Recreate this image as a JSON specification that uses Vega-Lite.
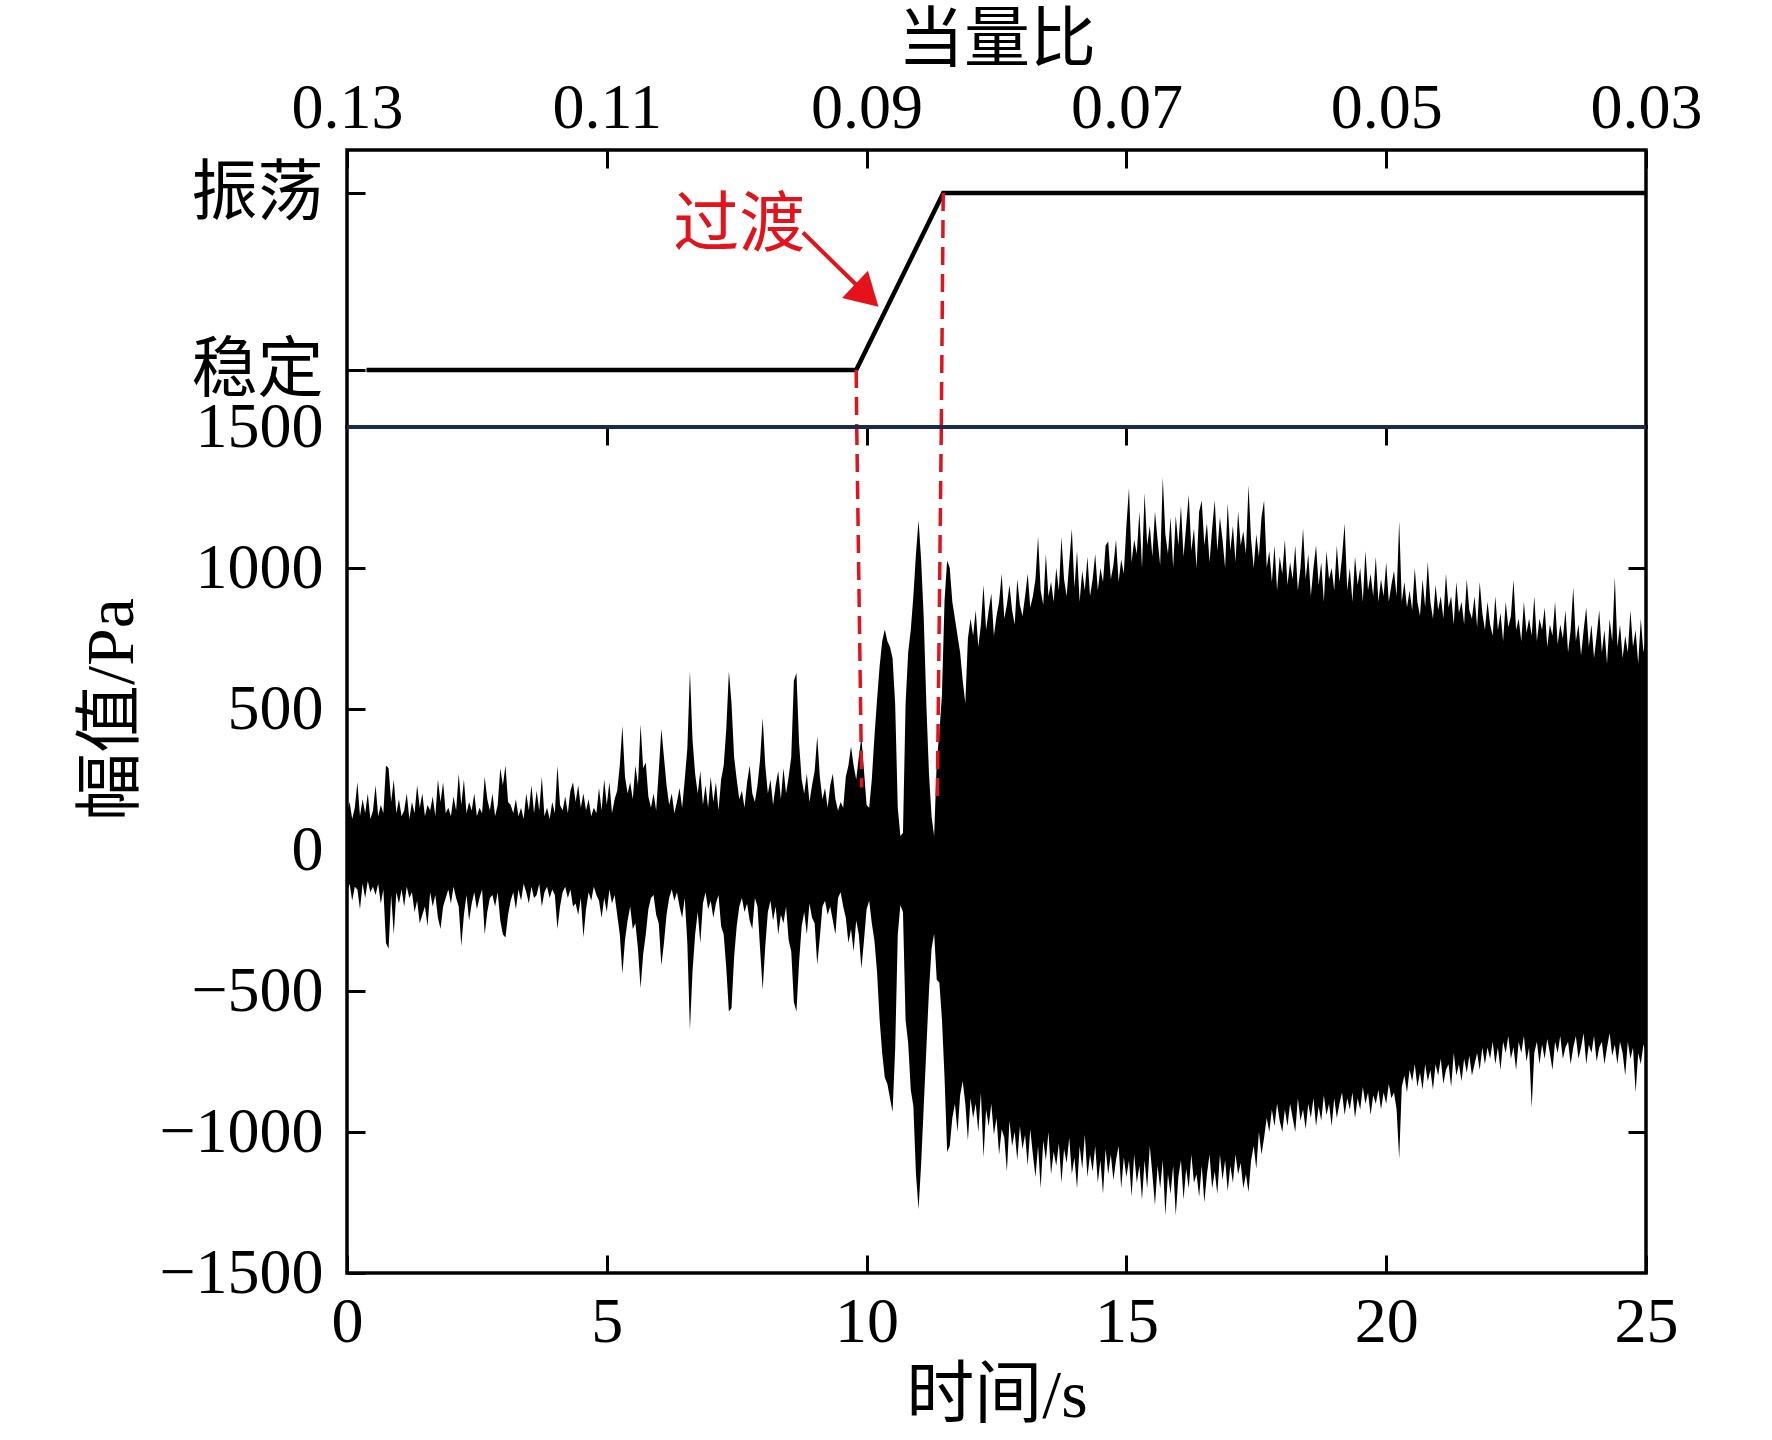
{
  "$schema": "https://vega.github.io/schema/vega-lite/v6.json",
  "background": "white",
  "padding": {"left": 76, "top": 5, "right": 20, "bottom": 10},
  "spacing": 0,
  "bounds": "flush",
  "config": {
    "view": {"stroke": "black", "strokeWidth": 3.5},
    "axis": {
      "domain": false, "grid": false,
      "tickColor": "black", "tickWidth": 3, "tickSize": -18,
      "labelFont": "Liberation Serif", "labelFontSize": 64, "labelColor": "black",
      "labelFlush": false, "labelOverlap": false,
      "titleFont": "Liberation Serif, Noto Sans CJK SC", "titleFontSize": 68,
      "titleFontWeight": "normal", "titleColor": "black"
    }
  },
  "vconcat": [
    {
      "width": 1299,
      "height": 277,
      "resolve": {"axis": {"x": "independent", "y": "independent"}},
      "layer": [
        {
          "data": {"values": [
            {"ratio": 0.1285, "state": 0},
            {"ratio": 0.0908, "state": 0},
            {"ratio": 0.0841, "state": 1},
            {"ratio": 0.03, "state": 1}
          ]},
          "mark": {"type": "line", "color": "black", "strokeWidth": 4.5},
          "encoding": {
            "x": {"field": "ratio", "type": "quantitative",
                  "scale": {"domain": [0.03, 0.13], "reverse": true, "nice": false, "zero": false},
                  "axis": {"orient": "top", "title": "当量比", "values": [0.13, 0.11, 0.09, 0.07, 0.05, 0.03],
                           "format": ".2f", "labelPadding": 28, "titleFont": "Noto Sans CJK SC", "titleFontSize": 66,
                           "titleY": -110, "titleBaseline": "middle"}},
            "y": {"field": "state", "type": "quantitative",
                  "scale": {"domain": [-0.322, 1.2435], "nice": false, "zero": false},
                  "axis": {"orient": "left", "title": null, "values": [0, 1],
                           "labelExpr": "datum.value == 1 ? '振荡' : '稳定'",
                           "labelFont": "Noto Sans CJK SC", "labelFontSize": 66, "labelPadding": 42}}
          }
        },
        {
          "data": {"values": [
            {"r1": 0.0908, "s1": 0, "r2": 0.09076, "s2": -0.322},
            {"r1": 0.0841, "s1": 1, "r2": 0.08425, "s2": -0.322}
          ]},
          "mark": {"type": "rule", "color": "#e3121b", "strokeWidth": 3.5, "strokeDash": [18, 9]},
          "encoding": {
            "x": {"field": "r1", "type": "quantitative", "axis": null},
            "x2": {"field": "r2"},
            "y": {"field": "s1", "type": "quantitative", "axis": null},
            "y2": {"field": "s2"}
          }
        },
        {
          "data": {"values": [{"r1": 0.0949, "s1": 0.777, "r2": 0.09066, "s2": 0.472}]},
          "mark": {"type": "rule", "color": "#e3121b", "strokeWidth": 4},
          "encoding": {
            "x": {"field": "r1", "type": "quantitative", "axis": null},
            "x2": {"field": "r2"},
            "y": {"field": "s1", "type": "quantitative", "axis": null},
            "y2": {"field": "s2"}
          }
        },
        {
          "data": {"values": [{"ratio": 0.08999, "state": 0.421}]},
          "mark": {"type": "point", "shape": "triangle-right", "angle": 43.6, "filled": true,
                   "color": "#e3121b", "opacity": 1, "size": 1400},
          "encoding": {
            "x": {"field": "ratio", "type": "quantitative", "axis": null},
            "y": {"field": "state", "type": "quantitative", "axis": null}
          }
        },
        {
          "data": {"values": [{"ratio": 0.0998, "state": 0.816, "label": "过渡"}]},
          "mark": {"type": "text", "color": "#e3121b", "font": "Noto Sans CJK SC", "fontSize": 66,
                   "align": "center", "baseline": "middle"},
          "encoding": {
            "x": {"field": "ratio", "type": "quantitative", "axis": null},
            "y": {"field": "state", "type": "quantitative", "axis": null},
            "text": {"field": "label"}
          }
        }
      ]
    },
    {
      "width": 1299,
      "height": 846,
      "resolve": {"axis": {"x": "independent", "y": "independent"}},
      "layer": [
        {
          "data": {"values": [
{"t":0.00,"hi":130,"lo":-150},{"t":0.05,"hi":170,"lo":-120},{"t":0.10,"hi":110,"lo":-180},{"t":0.15,"hi":150,"lo":-130},
{"t":0.20,"hi":240,"lo":-140},{"t":0.25,"hi":120,"lo":-210},{"t":0.30,"hi":180,"lo":-120},{"t":0.35,"hi":130,"lo":-170},
{"t":0.40,"hi":200,"lo":-110},{"t":0.45,"hi":110,"lo":-150},{"t":0.50,"hi":140,"lo":-130},{"t":0.55,"hi":230,"lo":-160},
{"t":0.60,"hi":120,"lo":-120},{"t":0.65,"hi":160,"lo":-190},{"t":0.70,"hi":130,"lo":-140},{"t":0.75,"hi":300,"lo":-330},
{"t":0.80,"hi":290,"lo":-350},{"t":0.85,"hi":170,"lo":-160},{"t":0.90,"hi":250,"lo":-300},{"t":0.95,"hi":130,"lo":-150},
{"t":1.00,"hi":180,"lo":-190},{"t":1.05,"hi":120,"lo":-140},{"t":1.10,"hi":140,"lo":-200},{"t":1.15,"hi":200,"lo":-130},
{"t":1.20,"hi":110,"lo":-170},{"t":1.25,"hi":170,"lo":-150},{"t":1.30,"hi":130,"lo":-220},{"t":1.35,"hi":230,"lo":-180},
{"t":1.40,"hi":150,"lo":-260},{"t":1.45,"hi":200,"lo":-230},{"t":1.50,"hi":120,"lo":-200},{"t":1.55,"hi":160,"lo":-270},
{"t":1.60,"hi":140,"lo":-150},{"t":1.65,"hi":190,"lo":-200},{"t":1.70,"hi":120,"lo":-160},{"t":1.75,"hi":250,"lo":-240},
{"t":1.80,"hi":170,"lo":-280},{"t":1.85,"hi":240,"lo":-200},{"t":1.90,"hi":130,"lo":-170},{"t":1.95,"hi":150,"lo":-140},
{"t":2.00,"hi":120,"lo":-190},{"t":2.05,"hi":190,"lo":-130},{"t":2.10,"hi":140,"lo":-170},{"t":2.15,"hi":270,"lo":-200},
{"t":2.20,"hi":160,"lo":-340},{"t":2.25,"hi":250,"lo":-230},{"t":2.30,"hi":130,"lo":-160},{"t":2.35,"hi":170,"lo":-250},
{"t":2.40,"hi":140,"lo":-190},{"t":2.45,"hi":200,"lo":-150},{"t":2.50,"hi":120,"lo":-210},{"t":2.55,"hi":150,"lo":-170},
{"t":2.60,"hi":130,"lo":-140},{"t":2.65,"hi":260,"lo":-300},{"t":2.70,"hi":180,"lo":-220},{"t":2.75,"hi":140,"lo":-170},
{"t":2.80,"hi":200,"lo":-160},{"t":2.85,"hi":120,"lo":-200},{"t":2.90,"hi":160,"lo":-150},{"t":2.95,"hi":290,"lo":-250},
{"t":3.00,"hi":230,"lo":-300},{"t":3.05,"hi":300,"lo":-310},{"t":3.10,"hi":170,"lo":-230},{"t":3.15,"hi":160,"lo":-180},
{"t":3.20,"hi":130,"lo":-150},{"t":3.25,"hi":180,"lo":-210},{"t":3.30,"hi":120,"lo":-140},{"t":3.35,"hi":150,"lo":-180},
{"t":3.40,"hi":110,"lo":-120},{"t":3.45,"hi":200,"lo":-150},{"t":3.50,"hi":140,"lo":-190},{"t":3.55,"hi":230,"lo":-130},
{"t":3.60,"hi":130,"lo":-170},{"t":3.65,"hi":210,"lo":-160},{"t":3.70,"hi":140,"lo":-120},{"t":3.75,"hi":260,"lo":-200},
{"t":3.80,"hi":120,"lo":-150},{"t":3.85,"hi":150,"lo":-130},{"t":3.90,"hi":110,"lo":-170},{"t":3.95,"hi":170,"lo":-140},
{"t":4.00,"hi":130,"lo":-160},{"t":4.05,"hi":300,"lo":-280},{"t":4.10,"hi":160,"lo":-200},{"t":4.15,"hi":140,"lo":-150},
{"t":4.20,"hi":190,"lo":-130},{"t":4.25,"hi":130,"lo":-170},{"t":4.30,"hi":210,"lo":-140},{"t":4.35,"hi":240,"lo":-200},
{"t":4.40,"hi":170,"lo":-190},{"t":4.45,"hi":230,"lo":-230},{"t":4.50,"hi":150,"lo":-170},{"t":4.55,"hi":200,"lo":-310},
{"t":4.60,"hi":140,"lo":-210},{"t":4.65,"hi":180,"lo":-150},{"t":4.70,"hi":120,"lo":-180},{"t":4.75,"hi":150,"lo":-130},
{"t":4.80,"hi":130,"lo":-160},{"t":4.85,"hi":220,"lo":-180},{"t":4.90,"hi":140,"lo":-240},{"t":4.95,"hi":250,"lo":-170},
{"t":5.00,"hi":160,"lo":-220},{"t":5.05,"hi":240,"lo":-140},{"t":5.10,"hi":130,"lo":-190},{"t":5.15,"hi":180,"lo":-160},
{"t":5.20,"hi":210,"lo":-230},{"t":5.25,"hi":300,"lo":-300},{"t":5.30,"hi":440,"lo":-440},{"t":5.35,"hi":260,"lo":-320},
{"t":5.40,"hi":200,"lo":-250},{"t":5.45,"hi":240,"lo":-200},{"t":5.50,"hi":180,"lo":-280},{"t":5.55,"hi":300,"lo":-260},
{"t":5.60,"hi":230,"lo":-350},{"t":5.65,"hi":445,"lo":-490},{"t":5.70,"hi":290,"lo":-370},{"t":5.75,"hi":310,"lo":-300},
{"t":5.80,"hi":190,"lo":-210},{"t":5.85,"hi":150,"lo":-170},{"t":5.90,"hi":200,"lo":-160},{"t":5.95,"hi":140,"lo":-230},
{"t":6.00,"hi":280,"lo":-260},{"t":6.05,"hi":430,"lo":-410},{"t":6.10,"hi":330,"lo":-330},{"t":6.15,"hi":230,"lo":-230},
{"t":6.20,"hi":160,"lo":-170},{"t":6.25,"hi":200,"lo":-140},{"t":6.30,"hi":130,"lo":-180},{"t":6.35,"hi":170,"lo":-150},
{"t":6.40,"hi":220,"lo":-200},{"t":6.45,"hi":150,"lo":-240},{"t":6.50,"hi":250,"lo":-170},{"t":6.55,"hi":360,"lo":-330},
{"t":6.60,"hi":634,"lo":-638},{"t":6.65,"hi":390,"lo":-430},{"t":6.70,"hi":270,"lo":-300},{"t":6.75,"hi":200,"lo":-220},
{"t":6.80,"hi":280,"lo":-330},{"t":6.85,"hi":160,"lo":-190},{"t":6.90,"hi":230,"lo":-150},{"t":6.95,"hi":150,"lo":-210},
{"t":7.00,"hi":260,"lo":-180},{"t":7.05,"hi":170,"lo":-240},{"t":7.10,"hi":240,"lo":-190},{"t":7.15,"hi":140,"lo":-160},
{"t":7.20,"hi":250,"lo":-270},{"t":7.25,"hi":300,"lo":-300},{"t":7.30,"hi":430,"lo":-420},{"t":7.35,"hi":634,"lo":-573},
{"t":7.40,"hi":520,"lo":-560},{"t":7.45,"hi":330,"lo":-380},{"t":7.50,"hi":250,"lo":-270},{"t":7.55,"hi":180,"lo":-200},
{"t":7.60,"hi":210,"lo":-170},{"t":7.65,"hi":150,"lo":-220},{"t":7.70,"hi":240,"lo":-190},{"t":7.75,"hi":300,"lo":-250},
{"t":7.80,"hi":200,"lo":-280},{"t":7.85,"hi":170,"lo":-170},{"t":7.90,"hi":230,"lo":-200},{"t":7.95,"hi":320,"lo":-350},
{"t":8.00,"hi":468,"lo":-496},{"t":8.05,"hi":300,"lo":-340},{"t":8.10,"hi":200,"lo":-220},{"t":8.15,"hi":250,"lo":-180},
{"t":8.20,"hi":160,"lo":-250},{"t":8.25,"hi":230,"lo":-200},{"t":8.30,"hi":280,"lo":-300},{"t":8.35,"hi":180,"lo":-230},
{"t":8.40,"hi":290,"lo":-260},{"t":8.45,"hi":200,"lo":-200},{"t":8.50,"hi":260,"lo":-320},{"t":8.55,"hi":330,"lo":-360},
{"t":8.60,"hi":600,"lo":-540},{"t":8.65,"hi":628,"lo":-573},{"t":8.70,"hi":380,"lo":-400},{"t":8.75,"hi":250,"lo":-270},
{"t":8.80,"hi":200,"lo":-220},{"t":8.85,"hi":270,"lo":-300},{"t":8.90,"hi":170,"lo":-190},{"t":8.95,"hi":230,"lo":-240},
{"t":9.00,"hi":280,"lo":-260},{"t":9.05,"hi":403,"lo":-407},{"t":9.10,"hi":260,"lo":-310},{"t":9.15,"hi":180,"lo":-200},
{"t":9.20,"hi":220,"lo":-180},{"t":9.25,"hi":150,"lo":-230},{"t":9.30,"hi":230,"lo":-200},{"t":9.35,"hi":270,"lo":-250},
{"t":9.40,"hi":180,"lo":-300},{"t":9.45,"hi":140,"lo":-170},{"t":9.50,"hi":170,"lo":-150},{"t":9.55,"hi":150,"lo":-200},
{"t":9.60,"hi":260,"lo":-240},{"t":9.65,"hi":300,"lo":-330},{"t":9.70,"hi":367,"lo":-280},{"t":9.75,"hi":300,"lo":-360},
{"t":9.80,"hi":250,"lo":-250},{"t":9.85,"hi":330,"lo":-300},{"t":9.90,"hi":400,"lo":-420},{"t":9.95,"hi":280,"lo":-320},
{"t":10.00,"hi":160,"lo":-210},{"t":10.05,"hi":150,"lo":-180},{"t":10.10,"hi":250,"lo":-260},{"t":10.15,"hi":400,"lo":-320},
{"t":10.20,"hi":530,"lo":-430},{"t":10.25,"hi":650,"lo":-600},{"t":10.30,"hi":740,"lo":-720},{"t":10.35,"hi":782,"lo":-807},
{"t":10.40,"hi":740,"lo":-830},{"t":10.45,"hi":721,"lo":-880},{"t":10.50,"hi":680,"lo":-929},{"t":10.55,"hi":517,"lo":-705},
{"t":10.60,"hi":150,"lo":-300},{"t":10.65,"hi":50,"lo":-196},{"t":10.70,"hi":60,"lo":-220},{"t":10.75,"hi":517,"lo":-603},
{"t":10.80,"hi":700,"lo":-684},{"t":10.85,"hi":780,"lo":-850},{"t":10.90,"hi":900,"lo":-909},{"t":10.95,"hi":1050,"lo":-1150},
{"t":11.00,"hi":1169,"lo":-1275},{"t":11.05,"hi":1027,"lo":-1112},{"t":11.10,"hi":823,"lo":-909},{"t":11.15,"hi":517,"lo":-705},
{"t":11.20,"hi":273,"lo":-501},{"t":11.25,"hi":120,"lo":-350},{"t":11.30,"hi":50,"lo":-297},{"t":11.35,"hi":313,"lo":-460},
{"t":11.40,"hi":415,"lo":-470},{"t":11.45,"hi":550,"lo":-600},{"t":11.50,"hi":884,"lo":-807},{"t":11.55,"hi":1027,"lo":-1071},
{"t":11.60,"hi":1000,"lo":-1050},{"t":11.65,"hi":880,"lo":-950},{"t":11.70,"hi":820,"lo":-900},{"t":11.75,"hi":760,"lo":-1000},
{"t":11.80,"hi":700,"lo":-870},{"t":11.85,"hi":600,"lo":-820},{"t":11.90,"hi":520,"lo":-900},{"t":11.95,"hi":750,"lo":-1030},
{"t":12.00,"hi":820,"lo":-880},{"t":12.05,"hi":760,"lo":-950},{"t":12.10,"hi":850,"lo":-900},{"t":12.15,"hi":720,"lo":-1000},
{"t":12.20,"hi":800,"lo":-860},{"t":12.25,"hi":940,"lo":-1090},{"t":12.30,"hi":780,"lo":-920},{"t":12.35,"hi":850,"lo":-980},
{"t":12.40,"hi":910,"lo":-900},{"t":12.45,"hi":760,"lo":-1010},{"t":12.50,"hi":830,"lo":-950},{"t":12.55,"hi":880,"lo":-1080},
{"t":12.60,"hi":980,"lo":-990},{"t":12.65,"hi":820,"lo":-1020},{"t":12.70,"hi":870,"lo":-1140},{"t":12.75,"hi":940,"lo":-960},
{"t":12.80,"hi":850,"lo":-1050},{"t":12.85,"hi":800,"lo":-1000},{"t":12.90,"hi":960,"lo":-1100},{"t":12.95,"hi":870,"lo":-980},
{"t":13.00,"hi":830,"lo":-1060},{"t":13.05,"hi":900,"lo":-1010},{"t":13.10,"hi":980,"lo":-1120},{"t":13.15,"hi":860,"lo":-990},
{"t":13.20,"hi":900,"lo":-1080},{"t":13.25,"hi":960,"lo":-1160},{"t":13.30,"hi":1112,"lo":-1050},{"t":13.35,"hi":920,"lo":-1200},
{"t":13.40,"hi":870,"lo":-1030},{"t":13.45,"hi":1050,"lo":-1100},{"t":13.50,"hi":900,"lo":-1000},{"t":13.55,"hi":950,"lo":-1150},
{"t":13.60,"hi":880,"lo":-1070},{"t":13.65,"hi":1000,"lo":-1120},{"t":13.70,"hi":920,"lo":-1040},{"t":13.75,"hi":1110,"lo":-1180},
{"t":13.80,"hi":960,"lo":-1060},{"t":13.85,"hi":900,"lo":-1110},{"t":13.90,"hi":1020,"lo":-1020},{"t":13.95,"hi":1139,"lo":-1150},
{"t":14.00,"hi":930,"lo":-1090},{"t":14.05,"hi":1060,"lo":-1200},{"t":14.10,"hi":880,"lo":-1050},{"t":14.15,"hi":990,"lo":-1130},
{"t":14.20,"hi":920,"lo":-1010},{"t":14.25,"hi":1040,"lo":-1160},{"t":14.30,"hi":900,"lo":-1080},{"t":14.35,"hi":960,"lo":-1140},
{"t":14.40,"hi":1050,"lo":-1050},{"t":14.45,"hi":920,"lo":-1180},{"t":14.50,"hi":1000,"lo":-1100},{"t":14.55,"hi":950,"lo":-1220},
{"t":14.60,"hi":1080,"lo":-1060},{"t":14.65,"hi":1094,"lo":-1150},{"t":14.70,"hi":960,"lo":-1080},{"t":14.75,"hi":1010,"lo":-1170},
{"t":14.80,"hi":1100,"lo":-1100},{"t":14.85,"hi":950,"lo":-1050},{"t":14.90,"hi":1030,"lo":-1200},{"t":14.95,"hi":980,"lo":-1090},
{"t":15.00,"hi":1150,"lo":-1160},{"t":15.05,"hi":1284,"lo":-1100},{"t":15.10,"hi":1020,"lo":-1230},{"t":15.15,"hi":1100,"lo":-1080},
{"t":15.20,"hi":1050,"lo":-1180},{"t":15.25,"hi":1200,"lo":-1120},{"t":15.30,"hi":1000,"lo":-1240},{"t":15.35,"hi":1266,"lo":-1100},
{"t":15.40,"hi":1080,"lo":-1200},{"t":15.45,"hi":1150,"lo":-1050},{"t":15.50,"hi":1040,"lo":-1150},{"t":15.55,"hi":1200,"lo":-1260},
{"t":15.60,"hi":1100,"lo":-1120},{"t":15.65,"hi":1010,"lo":-1200},{"t":15.70,"hi":1321,"lo":-1100},{"t":15.75,"hi":1120,"lo":-1296},
{"t":15.80,"hi":1050,"lo":-1150},{"t":15.85,"hi":1180,"lo":-1220},{"t":15.90,"hi":1000,"lo":-1120},{"t":15.95,"hi":1185,"lo":-1296},
{"t":16.00,"hi":1080,"lo":-1160},{"t":16.05,"hi":1220,"lo":-1100},{"t":16.10,"hi":1040,"lo":-1240},{"t":16.15,"hi":1150,"lo":-1130},
{"t":16.20,"hi":1260,"lo":-1200},{"t":16.25,"hi":1060,"lo":-1080},{"t":16.30,"hi":1140,"lo":-1180},{"t":16.35,"hi":1000,"lo":-1150},
{"t":16.40,"hi":1200,"lo":-1230},{"t":16.45,"hi":1239,"lo":-1120},{"t":16.50,"hi":1080,"lo":-1250},{"t":16.55,"hi":1160,"lo":-1150},
{"t":16.60,"hi":1020,"lo":-1080},{"t":16.65,"hi":1140,"lo":-1200},{"t":16.70,"hi":1240,"lo":-1140},{"t":16.75,"hi":1060,"lo":-1220},
{"t":16.80,"hi":1180,"lo":-1080},{"t":16.85,"hi":1100,"lo":-1170},{"t":16.90,"hi":1000,"lo":-1100},{"t":16.95,"hi":1230,"lo":-1210},
{"t":17.00,"hi":1060,"lo":-1120},{"t":17.05,"hi":1150,"lo":-1180},{"t":17.10,"hi":1020,"lo":-1080},{"t":17.15,"hi":1200,"lo":-1150},
{"t":17.20,"hi":1080,"lo":-1110},{"t":17.25,"hi":1130,"lo":-1200},{"t":17.30,"hi":1050,"lo":-1150},{"t":17.35,"hi":1293,"lo":-1214},
{"t":17.40,"hi":1100,"lo":-1100},{"t":17.45,"hi":1000,"lo":-1050},{"t":17.50,"hi":1120,"lo":-1130},{"t":17.55,"hi":1040,"lo":-1000},
{"t":17.60,"hi":1180,"lo":-1080},{"t":17.65,"hi":1239,"lo":-1020},{"t":17.70,"hi":1000,"lo":-950},{"t":17.75,"hi":1060,"lo":-1000},
{"t":17.80,"hi":950,"lo":-920},{"t":17.85,"hi":1080,"lo":-980},{"t":17.90,"hi":920,"lo":-900},{"t":17.95,"hi":1040,"lo":-960},
{"t":18.00,"hi":980,"lo":-1000},{"t":18.05,"hi":1100,"lo":-920},{"t":18.10,"hi":940,"lo":-980},{"t":18.15,"hi":1020,"lo":-900},
{"t":18.20,"hi":960,"lo":-950},{"t":18.25,"hi":1080,"lo":-1000},{"t":18.30,"hi":920,"lo":-880},{"t":18.35,"hi":1000,"lo":-960},
{"t":18.40,"hi":1140,"lo":-920},{"t":18.45,"hi":960,"lo":-990},{"t":18.50,"hi":1050,"lo":-900},{"t":18.55,"hi":900,"lo":-950},
{"t":18.60,"hi":1000,"lo":-880},{"t":18.65,"hi":1080,"lo":-980},{"t":18.70,"hi":940,"lo":-910},{"t":18.75,"hi":1020,"lo":-960},
{"t":18.80,"hi":880,"lo":-870},{"t":18.85,"hi":1060,"lo":-940},{"t":18.90,"hi":960,"lo":-900},{"t":18.95,"hi":1000,"lo":-980},
{"t":19.00,"hi":920,"lo":-880},{"t":19.05,"hi":1080,"lo":-950},{"t":19.10,"hi":950,"lo":-900},{"t":19.15,"hi":1040,"lo":-860},
{"t":19.20,"hi":1158,"lo":-940},{"t":19.25,"hi":920,"lo":-880},{"t":19.30,"hi":1000,"lo":-920},{"t":19.35,"hi":880,"lo":-860},
{"t":19.40,"hi":1040,"lo":-950},{"t":19.45,"hi":940,"lo":-880},{"t":19.50,"hi":1000,"lo":-920},{"t":19.55,"hi":880,"lo":-840},
{"t":19.60,"hi":1060,"lo":-900},{"t":19.65,"hi":920,"lo":-860},{"t":19.70,"hi":980,"lo":-940},{"t":19.75,"hi":900,"lo":-870},
{"t":19.80,"hi":1040,"lo":-900},{"t":19.85,"hi":880,"lo":-850},{"t":19.90,"hi":960,"lo":-920},{"t":19.95,"hi":900,"lo":-860},
{"t":20.00,"hi":1020,"lo":-900},{"t":20.05,"hi":880,"lo":-830},{"t":20.10,"hi":940,"lo":-880},{"t":20.15,"hi":990,"lo":-860},
{"t":20.20,"hi":900,"lo":-920},{"t":20.25,"hi":1167,"lo":-1096},{"t":20.30,"hi":880,"lo":-840},{"t":20.35,"hi":950,"lo":-800},
{"t":20.40,"hi":860,"lo":-860},{"t":20.45,"hi":920,"lo":-780},{"t":20.50,"hi":850,"lo":-820},{"t":20.55,"hi":1000,"lo":-760},
{"t":20.60,"hi":880,"lo":-840},{"t":20.65,"hi":830,"lo":-790},{"t":20.70,"hi":960,"lo":-850},{"t":20.75,"hi":860,"lo":-760},
{"t":20.80,"hi":1022,"lo":-820},{"t":20.85,"hi":880,"lo":-780},{"t":20.90,"hi":820,"lo":-850},{"t":20.95,"hi":940,"lo":-760},
{"t":21.00,"hi":850,"lo":-800},{"t":21.05,"hi":900,"lo":-740},{"t":21.10,"hi":820,"lo":-830},{"t":21.15,"hi":980,"lo":-780},
{"t":21.20,"hi":860,"lo":-760},{"t":21.25,"hi":900,"lo":-840},{"t":21.30,"hi":800,"lo":-720},{"t":21.35,"hi":950,"lo":-800},
{"t":21.40,"hi":840,"lo":-760},{"t":21.45,"hi":880,"lo":-820},{"t":21.50,"hi":800,"lo":-740},{"t":21.55,"hi":960,"lo":-790},
{"t":21.60,"hi":850,"lo":-730},{"t":21.65,"hi":820,"lo":-800},{"t":21.70,"hi":900,"lo":-760},{"t":21.75,"hi":790,"lo":-720},
{"t":21.80,"hi":950,"lo":-780},{"t":21.85,"hi":840,"lo":-700},{"t":21.90,"hi":780,"lo":-760},{"t":21.95,"hi":880,"lo":-700},
{"t":22.00,"hi":800,"lo":-740},{"t":22.05,"hi":760,"lo":-680},{"t":22.10,"hi":900,"lo":-760},{"t":22.15,"hi":780,"lo":-700},
{"t":22.20,"hi":840,"lo":-780},{"t":22.25,"hi":740,"lo":-680},{"t":22.30,"hi":880,"lo":-720},{"t":22.35,"hi":790,"lo":-660},
{"t":22.40,"hi":830,"lo":-740},{"t":22.45,"hi":958,"lo":-700},{"t":22.50,"hi":780,"lo":-780},{"t":22.55,"hi":820,"lo":-680},
{"t":22.60,"hi":740,"lo":-720},{"t":22.65,"hi":880,"lo":-660},{"t":22.70,"hi":770,"lo":-750},{"t":22.75,"hi":820,"lo":-700},
{"t":22.80,"hi":760,"lo":-915},{"t":22.85,"hi":900,"lo":-720},{"t":22.90,"hi":740,"lo":-680},{"t":22.95,"hi":820,"lo":-760},
{"t":23.00,"hi":780,"lo":-690},{"t":23.05,"hi":860,"lo":-740},{"t":23.10,"hi":720,"lo":-670},{"t":23.15,"hi":800,"lo":-720},
{"t":23.20,"hi":760,"lo":-780},{"t":23.25,"hi":880,"lo":-680},{"t":23.30,"hi":730,"lo":-720},{"t":23.35,"hi":800,"lo":-660},
{"t":23.40,"hi":750,"lo":-740},{"t":23.45,"hi":850,"lo":-700},{"t":23.50,"hi":700,"lo":-680},{"t":23.55,"hi":780,"lo":-760},
{"t":23.60,"hi":931,"lo":-700},{"t":23.65,"hi":740,"lo":-660},{"t":23.70,"hi":800,"lo":-740},{"t":23.75,"hi":690,"lo":-700},
{"t":23.80,"hi":780,"lo":-650},{"t":23.85,"hi":860,"lo":-760},{"t":23.90,"hi":720,"lo":-690},{"t":23.95,"hi":800,"lo":-720},
{"t":24.00,"hi":680,"lo":-660},{"t":24.05,"hi":760,"lo":-750},{"t":24.10,"hi":850,"lo":-700},{"t":24.15,"hi":700,"lo":-680},
{"t":24.20,"hi":780,"lo":-760},{"t":24.25,"hi":660,"lo":-700},{"t":24.30,"hi":820,"lo":-650},{"t":24.35,"hi":740,"lo":-730},
{"t":24.40,"hi":968,"lo":-690},{"t":24.45,"hi":720,"lo":-760},{"t":24.50,"hi":800,"lo":-680},{"t":24.55,"hi":680,"lo":-720},
{"t":24.60,"hi":760,"lo":-800},{"t":24.65,"hi":700,"lo":-680},{"t":24.70,"hi":850,"lo":-740},{"t":24.75,"hi":720,"lo":-700},
{"t":24.80,"hi":780,"lo":-861},{"t":24.85,"hi":660,"lo":-720},{"t":24.90,"hi":820,"lo":-760},{"t":24.95,"hi":700,"lo":-690},
{"t":25.00,"hi":760,"lo":-720}
          ]},
          "mark": {"type": "area", "color": "black", "opacity": 1},
          "encoding": {
            "x": {"field": "t", "type": "quantitative",
                  "scale": {"domain": [0, 25], "nice": false, "zero": false},
                  "axis": {"orient": "bottom", "title": "时间/s", "values": [0, 5, 10, 15, 20, 25],
                           "labelPadding": 35, "titleY": 123, "titleBaseline": "middle"}},
            "y": {"field": "hi", "type": "quantitative",
                  "scale": {"domain": [-1500, 1500], "nice": false, "zero": false},
                  "axis": {"orient": "left", "title": "幅值/Pa", "values": [-1500, -1000, -500, 0, 500, 1000, 1500],
                           "format": "d", "labelPadding": 42, "titleX": -235, "titleY": 282,
                           "titleBaseline": "middle", "titleAlign": "center"}},
            "y2": {"field": "lo"}
          }
        },
        {
          "data": {"values": [
            {"t1": 9.81, "a1": 1500, "t2": 9.906, "a2": 222},
            {"t1": 11.438, "a1": 1500, "t2": 11.361, "a2": 191}
          ]},
          "mark": {"type": "rule", "color": "#e3121b", "strokeWidth": 3.5, "strokeDash": [18, 9]},
          "encoding": {
            "x": {"field": "t1", "type": "quantitative",
                  "axis": {"orient": "top", "title": null, "labels": false, "values": [5, 10, 15, 20]}},
            "x2": {"field": "t2"},
            "y": {"field": "a1", "type": "quantitative",
                  "axis": {"orient": "right", "title": null, "labels": false, "values": [-1000, -500, 0, 500, 1000]}},
            "y2": {"field": "a2"}
          }
        },
        {
          "data": {"values": [{"level": 1500}]},
          "mark": {"type": "rule", "color": "#1c2b4a", "strokeWidth": 4},
          "encoding": {
            "y": {"field": "level", "type": "quantitative", "axis": null}
          }
        }
      ]
    }
  ]
}
